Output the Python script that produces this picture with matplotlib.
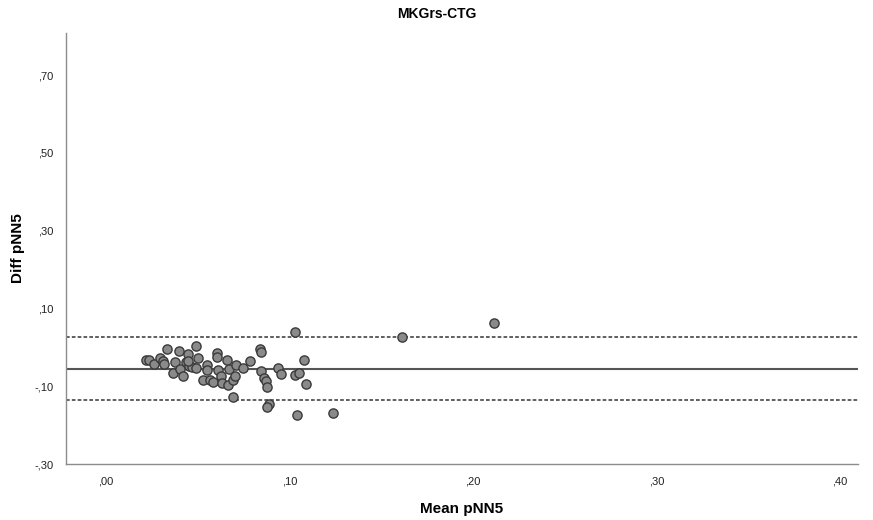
import matplotlib
matplotlib.use("Agg")
import matplotlib.pyplot as plt
import numpy as np

plt.rcParams['font.family'] = ['Liberation Sans', 'DejaVu Sans']

title = "MKGrs-CTG"
x_label = "Mean pNN5"
y_label = "Diff pNN5"

mean_vals = [0.0218, 0.0232, 0.0262, 0.0297, 0.0311, 0.0319, 0.0331, 0.0367, 0.0374, 0.0397,
             0.0406, 0.0420, 0.0434, 0.0445, 0.0453, 0.0468, 0.0491, 0.0499, 0.0491, 0.0531,
             0.0549, 0.0553, 0.0567, 0.0585, 0.0604, 0.0607, 0.0608, 0.0625, 0.0633, 0.0658,
             0.0668, 0.0664, 0.0693, 0.0701, 0.0709, 0.0691, 0.0749, 0.0784, 0.0842, 0.0847,
             0.0846, 0.0859, 0.0871, 0.0880, 0.0890, 0.0877, 0.0938, 0.0953, 0.1031, 0.1029,
             0.1054, 0.1080, 0.1090, 0.1042, 0.1236, 0.1613, 0.2113, 0.0449]
diff_vals = [-0.0330, -0.0317, -0.0425, -0.0279, -0.0343, -0.0419, -0.0036, -0.0650, -0.0368, -0.0107,
             -0.0560, -0.0739, -0.0381, -0.0176, -0.0483, -0.0509, 0.0036, -0.0279, -0.0535, -0.0834,
             -0.0450, -0.0586, -0.0834, -0.0893, -0.0151, -0.0253, -0.0578, -0.0747, -0.0918, -0.0317,
             -0.0560, -0.0962, -0.0841, -0.0726, -0.0445, -0.1276, -0.0522, -0.0356, -0.0031, -0.0125,
             -0.0619, -0.0777, -0.0875, -0.1008, -0.1455, -0.1540, -0.0535, -0.0688, 0.0386, -0.0721,
             -0.0668, -0.0322, -0.0944, -0.1729, -0.1685, 0.0258, 0.0616, -0.0363]

mean_diff = -0.0547
upper_loa = 0.0258
lower_loa = -0.1366

x_ticks = [0.0, 0.1, 0.2, 0.3, 0.4]
x_ticklabels = [",00", ",10", ",20", ",30", ",40"]
y_ticks = [-0.3, -0.1, 0.1, 0.3, 0.5, 0.7]
y_ticklabels = ["-,30", "-,10", ",10", ",30", ",50", ",70"]

fig = plt.figure(figsize=(8.73, 5.2), dpi=100)
ax = fig.add_axes([66/873, 1-464/520, (858-66)/873, (464-33)/520])

ax.axhline(mean_diff, color="#555555", lw=1.5, zorder=1)
ax.axhline(upper_loa, color="#444444", lw=1.2, ls=(0, (2.2, 1.3)), zorder=1)
ax.axhline(lower_loa, color="#444444", lw=1.2, ls=(0, (2.2, 1.3)), zorder=1)

ax.scatter(mean_vals, diff_vals, s=44, facecolor="#8a8a8a", edgecolor="#3a3a3a",
           linewidths=1.0, zorder=3)

ax.set_xlim(-0.0218, 0.41)
ax.set_ylim(-0.293, 0.808)

ax.set_xticks(x_ticks)
ax.set_xticklabels(x_ticklabels)
ax.set_yticks(y_ticks)
ax.set_yticklabels(y_ticklabels)
ax.tick_params(length=0, labelsize=8, colors="#222222")
ax.tick_params(axis='y', pad=9)
ax.tick_params(axis='x', pad=9)

for side in ["top", "right"]:
    ax.spines[side].set_visible(False)
for side in ["left", "bottom"]:
    ax.spines[side].set_color("#8c8c8c")
    ax.spines[side].set_linewidth(1.0)

ax.set_xlabel(x_label, fontsize=11, fontweight="bold")
ax.set_ylabel(y_label, fontsize=11, fontweight="bold")
ax.xaxis.set_label_coords(0.5, -0.088)
ax.yaxis.set_label_coords(-0.052, 0.5)
fig.text(0.5, 1-14/520, title, ha="center", va="center", fontsize=10, fontweight="bold")

fig.savefig("out.png", dpi=100)
